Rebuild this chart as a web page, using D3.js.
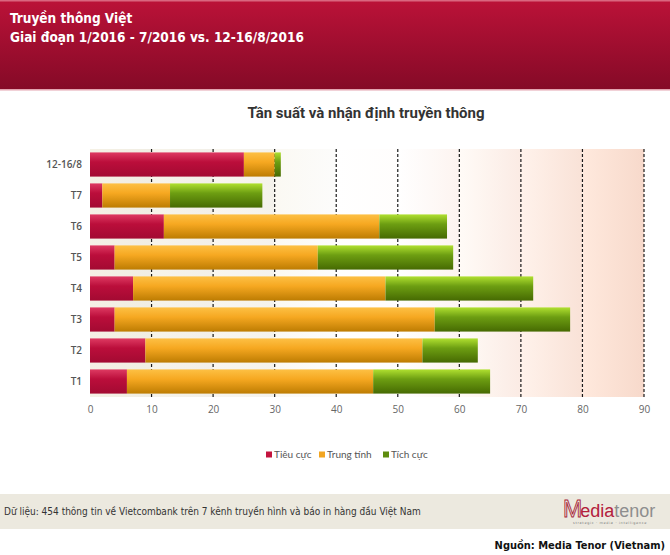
<!DOCTYPE html>
<html>
<head>
<meta charset="utf-8">
<script src="https://cdn.jsdelivr.net/npm/d3@7"></script>
<style>
  body { margin: 0; background: #fff; }
  svg { display: block; }
</style>
</head>
<body>
<div id="chart"></div>
<script>
// categories (top to bottom) and series values
var periods = ["12-16/8", "T7", "T6", "T5", "T4", "T3", "T2", "T1"];
var negative = [25, 2, 12, 4, 7, 4, 9, 6];   // Tiêu cực
var neutral  = [5, 11, 35, 33, 41, 52, 45, 40]; // Trung tính
var positive = [1, 15, 11, 22, 24, 22, 9, 19];  // Tích cực
var seriesNames = ["Tiêu cực", "Trung tính", "Tích cực"];
var xTicks = [0, 10, 20, 30, 40, 50, 60, 70, 80, 90];

var W = 670, H = 555;
var svg = d3.select("#chart").append("svg")
    .attr("width", W).attr("height", H);
var defs = svg.append("defs");

// ------- header band -------
var hg = defs.append("linearGradient").attr("id", "hdr")
    .attr("x1", 0).attr("y1", 0).attr("x2", 0).attr("y2", 1);
hg.append("stop").attr("offset", "0%").attr("stop-color", "#bb1238");
hg.append("stop").attr("offset", "100%").attr("stop-color", "#850a27");
svg.append("rect").attr("x", 0).attr("y", 0).attr("width", W).attr("height", 89)
    .attr("fill", "url(#hdr)");
svg.append("rect").attr("x", 0).attr("y", 0).attr("width", W).attr("height", 1.5)
    .attr("fill", "#d9667f");
svg.append("rect").attr("x", 0).attr("y", 89).attr("width", W).attr("height", 1.5)
    .attr("fill", "#e3a3b0");

var hdrFont = "bold 13.5px 'DejaVu Sans Condensed', 'DejaVu Sans', sans-serif";
svg.append("text").attr("x", 10).attr("y", 23)
    .attr("fill", "#fff").style("font", hdrFont)
    .text("Truyền thông Việt");
svg.append("text").attr("x", 10).attr("y", 42)
    .attr("fill", "#fff").style("font", hdrFont)
    .text("Giai đoạn 1/2016 - 7/2016 vs. 12-16/8/2016");

// chart title
svg.append("text").attr("x", 366).attr("y", 118)
    .attr("text-anchor", "middle").attr("fill", "#333")
    .style("font", "bold 15px Roboto, sans-serif")
    .text("Tần suất và nhận định truyền thông");

// ------- scales -------
var x = d3.scaleLinear().domain([0, 90]).range([90, 644]);
var y = d3.scaleBand().domain(periods).range([149, 397])
    .paddingInner(0.22).paddingOuter(0.11);

// plot background: each 10-unit column has its own left-to-right tint
var bgColor = d3.scaleLinear()
    .domain([0, 30, 42, 50, 90])
    .range(["#eeeadf", "#f4f2ec", "#fefefe", "#fffdfc", "#f7d9cb"]);
var plot = svg.append("g");
xTicks.slice(0, -1).forEach(function(t, i) {
    var id = "bg" + i;
    var g = defs.append("linearGradient").attr("id", id)
        .attr("x1", 0).attr("y1", 0).attr("x2", 1).attr("y2", 0);
    g.append("stop").attr("offset", "0%").attr("stop-color", d3.color(bgColor(t)).brighter(0.08));
    g.append("stop").attr("offset", "100%").attr("stop-color", bgColor(t + 10));
    plot.append("rect")
        .attr("x", x(t)).attr("y", 149)
        .attr("width", x(t + 10) - x(t)).attr("height", 248)
        .attr("fill", "url(#" + id + ")");
});

// dashed grid lines
plot.selectAll("line.grid").data(xTicks.slice(1))
    .enter().append("line").attr("class", "grid")
    .attr("x1", function(d) { return x(d); })
    .attr("x2", function(d) { return x(d); })
    .attr("y1", 149).attr("y2", 397)
    .attr("stroke", "#1a1a1a").attr("stroke-width", 1.2)
    .attr("stroke-dasharray", "3,2");

// bar gradients (top light, bottom dark)
var barShades = [
    ["#de3a62", "#bb0e3b", "#a30a32"],
    ["#fdc044", "#f6a821", "#bd7c02"],
    ["#b0e030", "#6d9e12", "#466a02"]
];
barShades.forEach(function(c, i) {
    var g = defs.append("linearGradient").attr("id", "bar" + i)
        .attr("x1", 0).attr("y1", 0).attr("x2", 0).attr("y2", 1);
    g.append("stop").attr("offset", "0%").attr("stop-color", c[0]);
    g.append("stop").attr("offset", "40%").attr("stop-color", c[1]);
    g.append("stop").attr("offset", "100%").attr("stop-color", c[2]);
});

// stacked bars
var rows = periods.map(function(p, i) {
    return { period: p, neg: negative[i], neu: neutral[i], pos: positive[i] };
});
var stack = d3.stack().keys(["neg", "neu", "pos"]);
var layers = stack(rows);

plot.selectAll("g.layer").data(layers)
    .enter().append("g").attr("class", "layer")
    .attr("fill", function(d, i) { return "url(#bar" + i + ")"; })
    .selectAll("rect").data(function(d) { return d; })
    .enter().append("rect")
    .attr("x", function(d) { return x(d[0]); })
    .attr("y", function(d) { return y(d.data.period); })
    .attr("width", function(d) { return x(d[1]) - x(d[0]); })
    .attr("height", y.bandwidth());

// ------- axes -------
var xAxis = svg.append("g").attr("transform", "translate(0,397)")
    .call(d3.axisBottom(x).tickValues(xTicks).tickSize(0).tickPadding(9));
xAxis.select(".domain").remove();
xAxis.selectAll("text").attr("fill", "#666")
    .style("font", "10px 'Open Sans', sans-serif");

var yAxis = svg.append("g").attr("transform", "translate(90,0)")
    .call(d3.axisLeft(y).tickSize(0).tickPadding(8));
yAxis.select(".domain").remove();
yAxis.selectAll("text").attr("fill", "#555")
    .style("font", "600 10px 'Open Sans', sans-serif");

// ------- legend -------
var legendColors = ["#c3143e", "#f2a521", "#5e8c0e"];
var legendX = [266, 319, 383];
var legend = svg.append("g");
seriesNames.forEach(function(n, i) {
    legend.append("rect").attr("x", legendX[i]).attr("y", 451.5)
        .attr("width", 6).attr("height", 6).attr("fill", legendColors[i]);
    legend.append("text").attr("x", legendX[i] + 8).attr("y", 458)
        .attr("fill", "#555").style("font", "10px Lato, sans-serif")
        .text(n);
});

// ------- footer -------
svg.append("rect").attr("x", 0).attr("y", 494).attr("width", W).attr("height", 35)
    .attr("fill", "#ece9df");
svg.append("text").attr("x", 4).attr("y", 515)
    .attr("fill", "#333").style("font", "10px 'DejaVu Sans Condensed', 'DejaVu Sans', sans-serif")
    .text("Dữ liệu: 454 thông tin về Vietcombank trên 7 kênh truyền hình và báo in hàng đầu Việt Nam");

// logo
var logo = svg.append("g").attr("transform", "translate(563,517)");
var lt = logo.append("text").style("font", "18px 'Liberation Sans', sans-serif");
lt.append("tspan").attr("fill", "none").attr("stroke", "#a8283c").attr("stroke-width", 0.9)
    .style("font-size", "23px").text("M");
lt.append("tspan").attr("fill", "#b3203c").attr("dx", -2).text("edia");
lt.append("tspan").attr("fill", "#8e8e8e").style("font-weight", "300").text("tenor");
logo.append("text").attr("x", 10).attr("y", 7)
    .attr("fill", "#777").style("font", "3.4px 'DejaVu Sans', sans-serif")
    .style("letter-spacing", "0.7px")
    .text("strategic · media · intelligence");

svg.append("text").attr("x", 665).attr("y", 549)
    .attr("text-anchor", "end").attr("fill", "#111")
    .style("font", "bold 11px 'DejaVu Sans Condensed', 'DejaVu Sans', sans-serif")
    .text("Nguồn: Media Tenor (Vietnam)");
</script>
</body>
</html>
